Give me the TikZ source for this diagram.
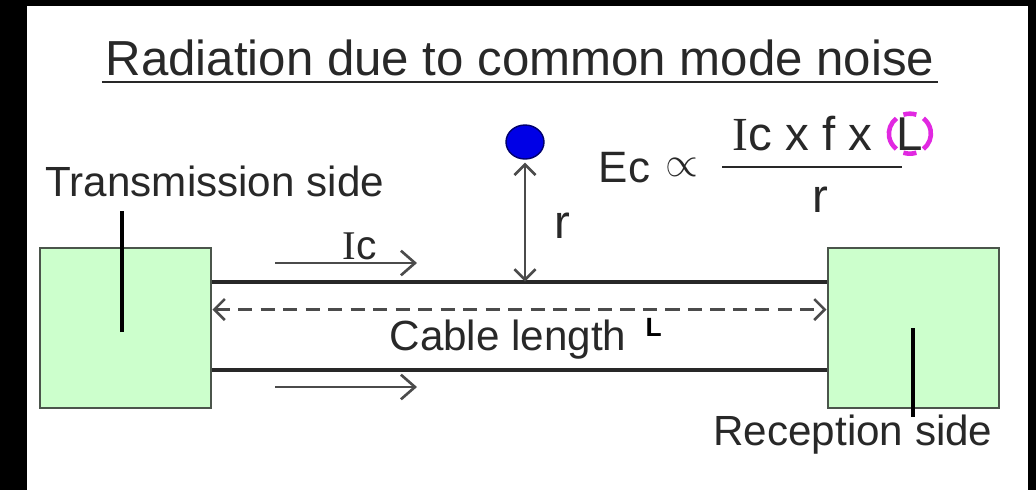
\documentclass[tikz,border=0pt]{standalone}
\usepackage{fontspec}
\setmainfont{Liberation Sans}
\newfontfamily\serifI{Liberation Serif}
\usepackage{tikz}
\usetikzlibrary{arrows.meta, positioning, shapes.geometric, calc}
\definecolor{verdeCaja}{RGB}{204,255,204}
\definecolor{grisBorde}{RGB}{75,85,75}
\definecolor{grisTexto}{RGB}{40,40,40}
\definecolor{grisFlecha}{RGB}{75,75,75}
\definecolor{azulPunto}{RGB}{0,0,230}
\definecolor{azulBorde}{RGB}{0,0,110}
\definecolor{magentaL}{RGB}{225,40,225}
\newcommand{\Ic}{{\serifI I}c}

\begin{document}
\begin{tikzpicture}[
  box/.style={rectangle, draw=grisBorde, line width=0.8pt, fill=verdeCaja,
              minimum width=1.71cm, minimum height=1.60cm, inner sep=0pt},
  cable/.style={draw=grisTexto, line width=1.1pt},
  arr/.style={-{Straight Barb[length=4pt,width=7pt]}, line width=0.75pt, color=grisFlecha},
  darr/.style={{Straight Barb[length=3pt,width=6pt]}-{Straight Barb[length=3pt,width=6pt]},
               line width=0.75pt, color=grisFlecha},
  leader/.style={line width=1.4pt, color=black},
  lbl/.style={font=\fontsize{12}{14}\selectfont, text=grisTexto, inner sep=0pt},
  eq/.style={font=\fontsize{13.5}{15}\selectfont, text=grisTexto, inner sep=0pt}
]
  \fill[black] (0,0) rectangle (10.36,-4.90);
  \fill[white] (0.27,-0.06) rectangle (10.28,-4.90);
  \useasboundingbox (0,0) rectangle (10.36,-4.90);

  \node[font=\fontsize{14}{16}\selectfont, text=grisTexto, inner sep=0pt, anchor=base]
    (title) at (5.20,-0.75) {Radiation due to common mode noise};
  \draw[grisTexto, line width=0.8pt] ([xshift=-0.03cm,yshift=-0.07cm]title.base west)
    -- ([xshift=0.03cm,yshift=-0.07cm]title.base east);

  \node[box] (tx) at (1.255,-3.28) {};
  \node[box] (rx) at (9.135,-3.28) {};
  \node[lbl, anchor=base west] (tside) at (0.45,-1.96) {Transmission side};
  \node[lbl, anchor=base] (rside) at (8.53,-4.45) {Reception side};
  \draw[leader] (1.22,-3.32) -- (1.22,-2.11);
  \draw[leader] (9.13,-3.28) -- (9.13,-4.17);

  \coordinate (topcab) at ([yshift=-0.35cm]tx.north east);
  \draw[cable] (topcab) -- ([yshift=-0.35cm]rx.north west);
  \draw[cable] ([yshift=-1.23cm]tx.north east) -- ([yshift=-1.23cm]rx.north west);
  \draw[darr, dash pattern=on 4pt off 2.4pt]
    ([yshift=-0.63cm]tx.north east) -- ([yshift=-0.63cm]rx.north west);
  \node[lbl, anchor=base] (len) at (5.08,-3.50) {Cable length};
  \node[font=\fontsize{7.5}{9}\selectfont\bfseries, inner sep=0pt, anchor=base west]
    (lenL) at (6.45,-3.36) {L};

  \coordinate (ic1) at (2.75,-2.63);
  \coordinate (ic2) at (2.75,-3.87);
  \draw[arr] (ic1) -- ++(1.42,0);
  \draw[arr] (ic2) -- ++(1.42,0);
  \node[font=\fontsize{11.6}{13}\selectfont, text=grisTexto, inner sep=0pt, anchor=base west]
    (iclbl) at (3.42,-2.59) {\Ic};

  \node[ellipse, draw=azulBorde, fill=azulPunto, line width=0.4pt,
        minimum width=0.38cm, minimum height=0.34cm, inner sep=0pt] (dot) at (5.25,-1.42) {};
  \draw[darr] ([yshift=-0.03cm]dot.south) -- (dot.south |- topcab);
  \node[eq, anchor=base] (rlbl) at (5.62,-2.38) {r};

  \node[eq, font=\fontsize{12.5}{15}\selectfont, anchor=base west] (ec) at (5.98,-1.82) {Ec};
  \node[eq, font=\fontsize{11.5}{15}\selectfont, right=0.14cm of ec] (prop) {$\propto$};
  \coordinate (fracA) at (7.22,-1.67);
  \coordinate (fracB) at (9.02,-1.67);
  \draw[grisTexto, line width=0.7pt] (fracA) -- (fracB);
  \node[eq, anchor=base west] (num) at (7.32,-1.50) {\Ic\ x f x};
  \node[eq, anchor=base west] (numL) at (8.96,-1.50) {L};
  \foreach \a/\b in {130/230, -50/50, 72/108, 252/288}
    \draw[magentaL, line width=1.3pt]
      ([shift={(\a:0.21cm and 0.20cm)}]numL.center)
      arc[start angle=\a, end angle=\b, x radius=0.21cm, y radius=0.20cm];
  \node[eq, anchor=base] (den) at (8.20,-2.12) {r};
\end{tikzpicture}
\end{document}
